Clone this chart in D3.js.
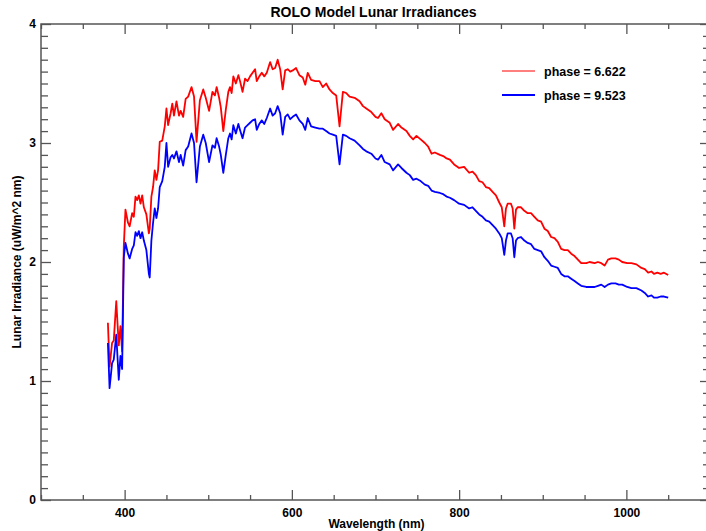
<!DOCTYPE html>
<html>
<head>
<meta charset="utf-8">
<script src="https://cdn.jsdelivr.net/npm/d3@7"></script>
<style>
  html, body { margin: 0; padding: 0; background: #fff; }
  svg { display: block; font-family: "Liberation Sans", Arial, Helvetica, sans-serif; }
</style>
</head>
<body>
<svg id="chart" width="706" height="531"></svg>
<script>
// ---- data ----
const wavelength = [380,382,385,387,390,393,395,397,399,401,404,406,409,411,413,415,417,419,421,423,426,429,430,432,434,436,438,440,442,445,448,450,452,455,457,459,462,465,467,470,473,476,480,483,486,490,494,497,501,505,508,510,513,515,518,521,524,526,528,530,533,536,538,541,544,547,550,553,556,558,561,564,567,570,574,577,580,583,586,589,592,595,598,601,605,609,613,616,619,623,628,633,637,641,645,649,653,657,661,665,669,675,681,685,689,695,700,703,707,711,717,721,727,731,737,741,745,749,754,759,763,767,771,777,781,785,789,794,800,806,812,816,820,824,828,832,836,840,844,848,851,854,856,858,862,864,866,868,870,874,878,882,886,890,894,898,902,906,910,914,918,922,926,930,934,938,942,946,952,956,962,966,970,974,978,982,987,991,995,1001,1006,1012,1018,1022,1026,1030,1033,1037,1041,1045,1050];

const phase6622 = [1.49,1.12,1.32,1.34,1.67,1.30,1.46,1.25,2.13,2.44,2.33,2.30,2.41,2.38,2.55,2.52,2.56,2.49,2.56,2.46,2.40,2.24,2.28,2.55,2.63,2.77,2.69,2.77,3.01,3.02,3.14,3.29,3.15,3.25,3.33,3.23,3.35,3.23,3.27,3.22,3.37,3.39,3.47,3.39,3.01,3.36,3.45,3.38,3.27,3.43,3.40,3.47,3.38,3.30,3.10,3.28,3.43,3.47,3.42,3.56,3.50,3.57,3.52,3.43,3.54,3.52,3.56,3.59,3.62,3.52,3.56,3.59,3.56,3.59,3.68,3.62,3.63,3.70,3.62,3.45,3.61,3.62,3.60,3.61,3.63,3.57,3.55,3.49,3.59,3.53,3.52,3.52,3.47,3.50,3.45,3.42,3.40,3.14,3.43,3.42,3.39,3.38,3.35,3.31,3.29,3.26,3.22,3.21,3.25,3.20,3.17,3.11,3.16,3.13,3.10,3.06,3.03,3.06,3.03,3.00,2.97,2.91,2.92,2.90,2.89,2.87,2.86,2.82,2.79,2.80,2.75,2.76,2.73,2.68,2.67,2.63,2.62,2.59,2.56,2.50,2.46,2.30,2.45,2.49,2.49,2.45,2.28,2.44,2.46,2.46,2.43,2.41,2.41,2.38,2.35,2.34,2.28,2.26,2.21,2.20,2.17,2.11,2.10,2.10,2.07,2.05,2.02,1.99,1.99,2.00,1.99,2.00,1.99,1.97,2.02,2.03,2.03,2.02,2.00,1.99,1.99,1.98,1.95,1.94,1.91,1.92,1.90,1.91,1.90,1.91,1.89];

const phase9523 = [1.32,0.94,1.15,1.18,1.39,1.01,1.21,1.10,2.04,2.16,2.07,2.03,2.11,2.14,2.25,2.22,2.26,2.20,2.25,2.18,2.10,1.90,1.87,2.18,2.33,2.45,2.37,2.45,2.63,2.68,2.80,3.00,2.80,2.88,2.90,2.87,2.93,2.84,2.90,2.81,2.94,2.97,3.08,3.00,2.67,2.97,3.07,3.00,2.84,2.98,2.96,3.04,2.97,2.90,2.75,2.90,3.04,3.08,3.03,3.15,3.08,3.16,3.11,3.04,3.13,3.15,3.17,3.19,3.20,3.11,3.16,3.19,3.16,3.21,3.29,3.23,3.25,3.31,3.25,3.07,3.22,3.24,3.20,3.22,3.24,3.19,3.16,3.11,3.21,3.14,3.13,3.12,3.12,3.10,3.08,3.07,3.06,2.82,3.07,3.06,3.04,3.02,2.98,2.95,2.93,2.91,2.87,2.86,2.90,2.84,2.82,2.77,2.82,2.79,2.75,2.73,2.69,2.70,2.68,2.65,2.64,2.60,2.59,2.58,2.57,2.55,2.54,2.52,2.49,2.48,2.45,2.46,2.43,2.40,2.38,2.35,2.34,2.31,2.28,2.24,2.20,2.06,2.18,2.24,2.24,2.20,2.04,2.18,2.20,2.21,2.18,2.16,2.15,2.11,2.10,2.09,2.04,2.01,1.97,1.96,1.95,1.90,1.88,1.88,1.86,1.84,1.82,1.80,1.79,1.79,1.79,1.80,1.81,1.79,1.81,1.82,1.82,1.81,1.81,1.79,1.78,1.78,1.76,1.74,1.71,1.72,1.70,1.70,1.71,1.71,1.70];

const seriesNames = ["phase = 6.622", "phase = 9.523"];
const seriesColors = ["#ff0000", "#0000ff"];

const xMajorTicks = [400, 600, 800, 1000];
const yMajorTicks = [0, 1, 2, 3, 4];

const titleText = "ROLO Model Lunar Irradiances";
const xTitle = "Wavelength (nm)";
const yTitle = "Lunar Irradiance (uW/m^2 nm)";

// ---- layout ----
const svg = d3.select("#chart");
const pL = 41, pR = 710, pT = 24, pB = 500;

const x = d3.scaleLinear().domain([300, 1100]).range([pL, pR]);
const y = d3.scaleLinear().domain([0, 4]).range([pB, pT]);

const xMinorTicks = d3.range(300, 1101, 50).filter(v => !xMajorTicks.includes(v));
const yMinorTicks = d3.range(0, 40.5, 1).map(v => v / 10).filter(v => !yMajorTicks.includes(v));

const axisColor = "#555";
const font = "bold 12px 'Liberation Sans', Arial, sans-serif";

function styleAxis(g) {
  g.select(".domain").remove();
  g.selectAll(".tick line").attr("stroke", axisColor).attr("stroke-width", 1.3);
  g.selectAll("text").attr("fill", "#000").style("font", font);
}

// bottom
svg.append("g").attr("transform", `translate(0,${pB})`)
  .call(d3.axisBottom(x).tickValues(xMajorTicks).tickSize(-10).tickPadding(8).tickFormat(d3.format("d")))
  .call(styleAxis);
svg.append("g").attr("transform", `translate(0,${pB})`)
  .call(d3.axisBottom(x).tickValues(xMinorTicks).tickSize(-5).tickFormat(""))
  .call(styleAxis);
// top
svg.append("g").attr("transform", `translate(0,${pT})`)
  .call(d3.axisTop(x).tickValues(xMajorTicks).tickSize(-10).tickFormat(""))
  .call(styleAxis);
svg.append("g").attr("transform", `translate(0,${pT})`)
  .call(d3.axisTop(x).tickValues(xMinorTicks).tickSize(-5).tickFormat(""))
  .call(styleAxis);
// left
svg.append("g").attr("transform", `translate(${pL},0)`)
  .call(d3.axisLeft(y).tickValues(yMajorTicks).tickSize(-10).tickPadding(5).tickFormat(d3.format("d")))
  .call(styleAxis);
svg.append("g").attr("transform", `translate(${pL},0)`)
  .call(d3.axisLeft(y).tickValues(yMinorTicks).tickSize(-7).tickFormat(""))
  .call(styleAxis);
// right
svg.append("g").attr("transform", `translate(${pR},0)`)
  .call(d3.axisRight(y).tickValues(yMajorTicks).tickSize(-10).tickFormat(""))
  .call(styleAxis);
svg.append("g").attr("transform", `translate(${pR},0)`)
  .call(d3.axisRight(y).tickValues(yMinorTicks).tickSize(-7).tickFormat(""))
  .call(styleAxis);

// frame
svg.append("rect")
  .attr("x", pL).attr("y", pT)
  .attr("width", pR - pL).attr("height", pB - pT)
  .attr("fill", "none").attr("stroke", axisColor).attr("stroke-width", 1.5);

// lines
const series = [phase6622, phase9523];
const line = d3.line().x(d => x(d[0])).y(d => y(d[1]));
series.forEach((vals, i) => {
  svg.append("path")
    .datum(wavelength.map((w, k) => [w, vals[k]]))
    .attr("fill", "none")
    .attr("stroke", seriesColors[i])
    .attr("stroke-width", 1.8)
    .attr("stroke-linejoin", "round")
    .attr("d", line);
});

// legend
const legend = svg.append("g");
seriesNames.forEach((name, i) => {
  const ly = 71 + i * 24;
  legend.append("line")
    .attr("x1", 502).attr("x2", 535).attr("y1", ly).attr("y2", ly)
    .attr("stroke", seriesColors[i]).attr("stroke-width", i === 0 ? 1.2 : 1.8);
  legend.append("text")
    .attr("x", 544).attr("y", ly + 4.5)
    .style("font", "bold 12.5px 'Liberation Sans', Arial, sans-serif")
    .text(name);
});

// titles
svg.append("text")
  .attr("x", (pL + pR) / 2 - 2).attr("y", 17)
  .attr("text-anchor", "middle")
  .style("font", "bold 14px 'Liberation Sans', Arial, sans-serif")
  .text(titleText);

svg.append("text")
  .attr("x", (pL + pR) / 2 + 1).attr("y", 528)
  .attr("text-anchor", "middle")
  .style("font", font)
  .text(xTitle);

svg.append("text")
  .attr("transform", `translate(21,${(pT + pB) / 2}) rotate(-90)`)
  .attr("text-anchor", "middle")
  .style("font", font)
  .text(yTitle);
</script>
</body>
</html>
